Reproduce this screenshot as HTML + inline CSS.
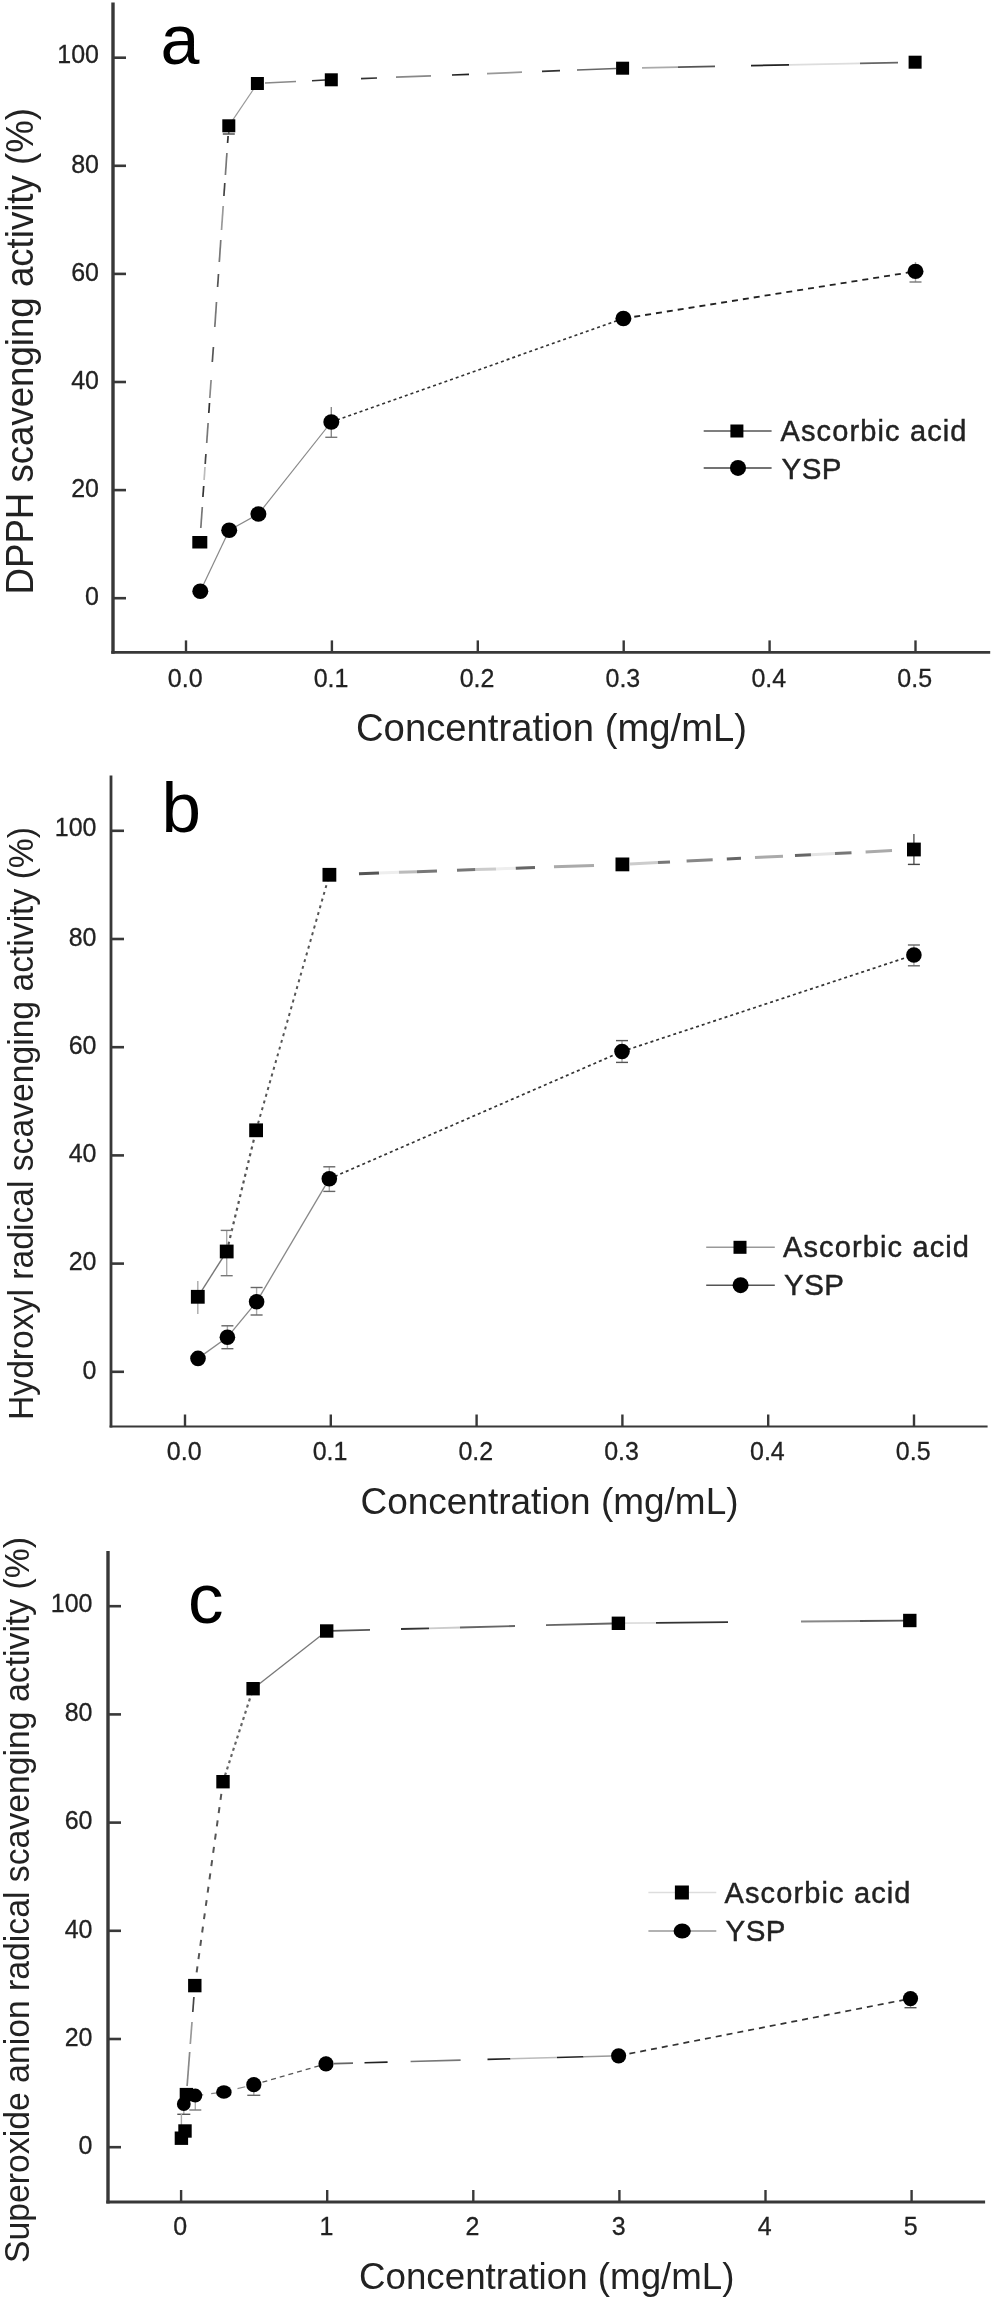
<!DOCTYPE html>
<html lang="en">
<head>
<meta charset="utf-8">
<title>Antioxidant scavenging activity of YSP and ascorbic acid</title>
<style>
html,body{margin:0;padding:0;background:#fff;}
body{width:994px;height:2298px;overflow:hidden;}
svg{display:block;font-family:'Liberation Sans', sans-serif;filter:blur(0.45px);}
</style>
</head>
<body>
<svg width="994" height="2298" viewBox="0 0 994 2298">
<rect x="0" y="0" width="994" height="2298" fill="#fff"/>
<line x1="113.0" y1="2.5" x2="113.0" y2="653.7" stroke="#383838" stroke-width="3.4"/>
<line x1="111.3" y1="652.4" x2="990.2" y2="652.4" stroke="#383838" stroke-width="2.6"/>
<line x1="113.0" y1="598.2" x2="126.0" y2="598.2" stroke="#383838" stroke-width="2.6"/>
<text transform="translate(99.0,605.0) scale(0.94,1)" font-size="26.6" text-anchor="end" fill="#222" stroke="#222" stroke-width="0.3">0</text>
<line x1="113.0" y1="490.1" x2="126.0" y2="490.1" stroke="#383838" stroke-width="2.6"/>
<text transform="translate(99.0,496.9) scale(0.94,1)" font-size="26.6" text-anchor="end" fill="#222" stroke="#222" stroke-width="0.3">20</text>
<line x1="113.0" y1="382.0" x2="126.0" y2="382.0" stroke="#383838" stroke-width="2.6"/>
<text transform="translate(99.0,388.8) scale(0.94,1)" font-size="26.6" text-anchor="end" fill="#222" stroke="#222" stroke-width="0.3">40</text>
<line x1="113.0" y1="273.9" x2="126.0" y2="273.9" stroke="#383838" stroke-width="2.6"/>
<text transform="translate(99.0,280.7) scale(0.94,1)" font-size="26.6" text-anchor="end" fill="#222" stroke="#222" stroke-width="0.3">60</text>
<line x1="113.0" y1="165.8" x2="126.0" y2="165.8" stroke="#383838" stroke-width="2.6"/>
<text transform="translate(99.0,172.6) scale(0.94,1)" font-size="26.6" text-anchor="end" fill="#222" stroke="#222" stroke-width="0.3">80</text>
<line x1="113.0" y1="57.7" x2="126.0" y2="57.7" stroke="#383838" stroke-width="2.6"/>
<text transform="translate(99.0,63.3) scale(0.94,1)" font-size="26.6" text-anchor="end" fill="#222" stroke="#222" stroke-width="0.3">100</text>
<line x1="186.0" y1="640.4" x2="186.0" y2="652.4" stroke="#383838" stroke-width="2.4"/>
<text transform="translate(185.2,686.8) scale(0.94,1)" font-size="26.6" text-anchor="middle" fill="#222" stroke="#222" stroke-width="0.3">0.0</text>
<line x1="331.9" y1="640.4" x2="331.9" y2="652.4" stroke="#383838" stroke-width="2.4"/>
<text transform="translate(331.1,686.8) scale(0.94,1)" font-size="26.6" text-anchor="middle" fill="#222" stroke="#222" stroke-width="0.3">0.1</text>
<line x1="477.8" y1="640.4" x2="477.8" y2="652.4" stroke="#383838" stroke-width="2.4"/>
<text transform="translate(477.0,686.8) scale(0.94,1)" font-size="26.6" text-anchor="middle" fill="#222" stroke="#222" stroke-width="0.3">0.2</text>
<line x1="623.7" y1="640.4" x2="623.7" y2="652.4" stroke="#383838" stroke-width="2.4"/>
<text transform="translate(622.9,686.8) scale(0.94,1)" font-size="26.6" text-anchor="middle" fill="#222" stroke="#222" stroke-width="0.3">0.3</text>
<line x1="769.6" y1="640.4" x2="769.6" y2="652.4" stroke="#383838" stroke-width="2.4"/>
<text transform="translate(768.8,686.8) scale(0.94,1)" font-size="26.6" text-anchor="middle" fill="#222" stroke="#222" stroke-width="0.3">0.4</text>
<line x1="915.5" y1="640.4" x2="915.5" y2="652.4" stroke="#383838" stroke-width="2.4"/>
<text transform="translate(914.7,686.8) scale(0.94,1)" font-size="26.6" text-anchor="middle" fill="#222" stroke="#222" stroke-width="0.3">0.5</text>
<text x="160.5" y="64.4" font-size="70" text-anchor="start" fill="#000" stroke="#000" stroke-width="0">a</text>
<text transform="translate(33.0,594.5) rotate(-90)" font-size="38" fill="#222" textLength="486.5" lengthAdjust="spacingAndGlyphs">DPPH scavenging activity (%)</text>
<text x="356.0" y="741.2" font-size="39.5" text-anchor="start" fill="#222" stroke="#222" stroke-width="0" textLength="391" lengthAdjust="spacingAndGlyphs">Concentration (mg/mL)</text>
<line x1="228.1" y1="136.0" x2="227.6" y2="143.0" stroke="#333" stroke-width="1.7"/>
<line x1="226.9" y1="153.0" x2="225.4" y2="175.0" stroke="#777" stroke-width="1.7"/>
<line x1="224.8" y1="183.0" x2="223.9" y2="196.0" stroke="#444" stroke-width="1.7"/>
<line x1="223.2" y1="206.0" x2="221.5" y2="230.0" stroke="#999" stroke-width="1.7"/>
<line x1="220.8" y1="240.0" x2="219.3" y2="262.0" stroke="#777" stroke-width="1.7"/>
<line x1="218.5" y1="274.0" x2="217.6" y2="287.0" stroke="#555" stroke-width="1.7"/>
<line x1="216.5" y1="302.0" x2="214.8" y2="327.0" stroke="#777" stroke-width="1.7"/>
<line x1="213.4" y1="347.0" x2="212.3" y2="362.0" stroke="#555" stroke-width="1.7"/>
<line x1="211.1" y1="380.0" x2="209.8" y2="398.0" stroke="#888" stroke-width="1.7"/>
<line x1="209.5" y1="403.0" x2="208.8" y2="413.0" stroke="#333" stroke-width="1.7"/>
<line x1="208.1" y1="423.0" x2="206.7" y2="443.0" stroke="#777" stroke-width="1.7"/>
<line x1="205.9" y1="454.0" x2="205.2" y2="464.0" stroke="#444" stroke-width="1.7"/>
<line x1="205.0" y1="467.0" x2="204.1" y2="480.0" stroke="#bbb" stroke-width="1.7"/>
<line x1="203.7" y1="486.0" x2="202.9" y2="497.0" stroke="#333" stroke-width="1.7"/>
<line x1="202.3" y1="507.0" x2="200.8" y2="528.0" stroke="#777" stroke-width="1.7"/>
<line x1="228.8" y1="125.8" x2="257.4" y2="83.5" stroke="#999" stroke-width="1.2"/>
<line x1="265.0" y1="83.1" x2="296.0" y2="81.6" stroke="#888" stroke-width="1.5"/>
<line x1="312.0" y1="80.8" x2="325.0" y2="80.1" stroke="#333" stroke-width="1.5"/>
<line x1="361.0" y1="78.6" x2="377.0" y2="78.0" stroke="#333" stroke-width="1.7"/>
<line x1="396.0" y1="77.2" x2="431.0" y2="75.8" stroke="#888" stroke-width="1.7"/>
<line x1="452.0" y1="75.0" x2="469.0" y2="74.3" stroke="#222" stroke-width="1.7"/>
<line x1="487.0" y1="73.6" x2="522.0" y2="72.2" stroke="#999" stroke-width="1.7"/>
<line x1="542.0" y1="71.4" x2="560.0" y2="70.7" stroke="#333" stroke-width="1.7"/>
<line x1="577.0" y1="70.0" x2="616.0" y2="68.5" stroke="#666" stroke-width="1.7"/>
<line x1="642.0" y1="67.8" x2="678.0" y2="67.1" stroke="#aaa" stroke-width="1.7"/>
<line x1="678.0" y1="67.1" x2="715.0" y2="66.3" stroke="#555" stroke-width="1.7"/>
<line x1="751.0" y1="65.6" x2="789.0" y2="64.8" stroke="#222" stroke-width="1.7"/>
<line x1="789.0" y1="64.8" x2="860.0" y2="63.3" stroke="#ddd" stroke-width="1.7"/>
<line x1="860.0" y1="63.3" x2="898.0" y2="62.6" stroke="#666" stroke-width="1.7"/>
<line x1="200.3" y1="591.3" x2="229.2" y2="530.2" stroke="#888" stroke-width="1.2"/>
<line x1="229.2" y1="530.2" x2="258.4" y2="514.0" stroke="#888" stroke-width="1.2"/>
<line x1="258.4" y1="514.0" x2="331.3" y2="422.0" stroke="#888" stroke-width="1.2"/>
<line x1="331.3" y1="422.0" x2="623.4" y2="318.5" stroke="#333" stroke-width="1.6" stroke-dasharray="3 3"/>
<line x1="623.4" y1="318.5" x2="915.5" y2="271.4" stroke="#222" stroke-width="1.8" stroke-dasharray="6 5"/>
<line x1="331.3" y1="407.0" x2="331.3" y2="437.3" stroke="#888" stroke-width="1.4"/>
<line x1="325.3" y1="437.3" x2="337.3" y2="437.3" stroke="#777" stroke-width="1.4"/>
<line x1="915.5" y1="262.0" x2="915.5" y2="282.0" stroke="#aaa" stroke-width="1.4"/>
<line x1="909.5" y1="282.0" x2="921.5" y2="282.0" stroke="#777" stroke-width="1.4"/>
<line x1="228.8" y1="120.0" x2="228.8" y2="134.0" stroke="#666" stroke-width="1.4"/>
<line x1="222.8" y1="134.0" x2="234.8" y2="134.0" stroke="#444" stroke-width="1.4"/>
<rect x="192.3" y="536.0" width="15" height="12.5" fill="#000"/>
<rect x="222.3" y="119.3" width="13" height="13" fill="#000"/>
<rect x="250.9" y="77.0" width="13" height="13" fill="#000"/>
<rect x="324.8" y="73.3" width="13" height="13" fill="#000"/>
<rect x="616.1" y="61.7" width="13" height="13" fill="#000"/>
<rect x="908.6" y="55.7" width="13" height="13" fill="#000"/>
<ellipse cx="200.3" cy="591.3" rx="8" ry="7.7" fill="#000"/>
<ellipse cx="229.2" cy="530.2" rx="8" ry="7.7" fill="#000"/>
<ellipse cx="258.4" cy="514.0" rx="8" ry="7.7" fill="#000"/>
<ellipse cx="331.3" cy="422.0" rx="8" ry="7.7" fill="#000"/>
<ellipse cx="623.4" cy="318.5" rx="8" ry="7.7" fill="#000"/>
<ellipse cx="915.5" cy="271.4" rx="8" ry="7.7" fill="#000"/>
<line x1="703.7" y1="431.0" x2="771.6" y2="431.0" stroke="#555" stroke-width="1.3"/>
<rect x="730.4" y="424.5" width="13" height="13" fill="#000"/>
<line x1="703.7" y1="467.9" x2="771.6" y2="467.9" stroke="#444" stroke-width="1.5"/>
<ellipse cx="738.0" cy="467.9" rx="8" ry="8" fill="#000"/>
<text x="780.5" y="441.0" font-size="29" text-anchor="start" fill="#222" stroke="#222" stroke-width="0.45" textLength="186" lengthAdjust="spacing">Ascorbic acid</text>
<text x="781.5" y="479.0" font-size="29.5" text-anchor="start" fill="#222" stroke="#222" stroke-width="0.45" textLength="60" lengthAdjust="spacing">YSP</text>
<line x1="111.0" y1="775.5" x2="111.0" y2="1427.6" stroke="#383838" stroke-width="2.8"/>
<line x1="109.6" y1="1426.5" x2="987.6" y2="1426.5" stroke="#383838" stroke-width="2.2"/>
<line x1="111.0" y1="1371.8" x2="124.0" y2="1371.8" stroke="#383838" stroke-width="2.6"/>
<text transform="translate(96.5,1378.6) scale(0.94,1)" font-size="26.6" text-anchor="end" fill="#222" stroke="#222" stroke-width="0.3">0</text>
<line x1="111.0" y1="1263.6" x2="124.0" y2="1263.6" stroke="#383838" stroke-width="2.6"/>
<text transform="translate(96.5,1270.4) scale(0.94,1)" font-size="26.6" text-anchor="end" fill="#222" stroke="#222" stroke-width="0.3">20</text>
<line x1="111.0" y1="1155.4" x2="124.0" y2="1155.4" stroke="#383838" stroke-width="2.6"/>
<text transform="translate(96.5,1162.2) scale(0.94,1)" font-size="26.6" text-anchor="end" fill="#222" stroke="#222" stroke-width="0.3">40</text>
<line x1="111.0" y1="1047.2" x2="124.0" y2="1047.2" stroke="#383838" stroke-width="2.6"/>
<text transform="translate(96.5,1054.0) scale(0.94,1)" font-size="26.6" text-anchor="end" fill="#222" stroke="#222" stroke-width="0.3">60</text>
<line x1="111.0" y1="939.0" x2="124.0" y2="939.0" stroke="#383838" stroke-width="2.6"/>
<text transform="translate(96.5,945.8) scale(0.94,1)" font-size="26.6" text-anchor="end" fill="#222" stroke="#222" stroke-width="0.3">80</text>
<line x1="111.0" y1="830.8" x2="124.0" y2="830.8" stroke="#383838" stroke-width="2.6"/>
<text transform="translate(96.5,836.4) scale(0.94,1)" font-size="26.6" text-anchor="end" fill="#222" stroke="#222" stroke-width="0.3">100</text>
<line x1="185.0" y1="1414.5" x2="185.0" y2="1426.5" stroke="#383838" stroke-width="2.4"/>
<text transform="translate(184.2,1460.0) scale(0.94,1)" font-size="26.6" text-anchor="middle" fill="#222" stroke="#222" stroke-width="0.3">0.0</text>
<line x1="330.8" y1="1414.5" x2="330.8" y2="1426.5" stroke="#383838" stroke-width="2.4"/>
<text transform="translate(330.0,1460.0) scale(0.94,1)" font-size="26.6" text-anchor="middle" fill="#222" stroke="#222" stroke-width="0.3">0.1</text>
<line x1="476.6" y1="1414.5" x2="476.6" y2="1426.5" stroke="#383838" stroke-width="2.4"/>
<text transform="translate(475.8,1460.0) scale(0.94,1)" font-size="26.6" text-anchor="middle" fill="#222" stroke="#222" stroke-width="0.3">0.2</text>
<line x1="622.4" y1="1414.5" x2="622.4" y2="1426.5" stroke="#383838" stroke-width="2.4"/>
<text transform="translate(621.6,1460.0) scale(0.94,1)" font-size="26.6" text-anchor="middle" fill="#222" stroke="#222" stroke-width="0.3">0.3</text>
<line x1="768.2" y1="1414.5" x2="768.2" y2="1426.5" stroke="#383838" stroke-width="2.4"/>
<text transform="translate(767.4,1460.0) scale(0.94,1)" font-size="26.6" text-anchor="middle" fill="#222" stroke="#222" stroke-width="0.3">0.4</text>
<line x1="914.0" y1="1414.5" x2="914.0" y2="1426.5" stroke="#383838" stroke-width="2.4"/>
<text transform="translate(913.2,1460.0) scale(0.94,1)" font-size="26.6" text-anchor="middle" fill="#222" stroke="#222" stroke-width="0.3">0.5</text>
<text x="161.5" y="832.4" font-size="71" text-anchor="start" fill="#000" stroke="#000" stroke-width="0">b</text>
<text transform="translate(32.7,1420.0) rotate(-90)" font-size="35" fill="#222" textLength="593" lengthAdjust="spacingAndGlyphs">Hydroxyl radical scavenging activity (%)</text>
<text x="360.5" y="1513.7" font-size="36" text-anchor="start" fill="#222" stroke="#222" stroke-width="0" textLength="378" lengthAdjust="spacingAndGlyphs">Concentration (mg/mL)</text>
<line x1="197.8" y1="1296.8" x2="226.7" y2="1251.5" stroke="#777" stroke-width="1.4"/>
<line x1="226.7" y1="1251.5" x2="256.1" y2="1130.3" stroke="#555" stroke-width="2.2" stroke-dasharray="3 4"/>
<line x1="256.1" y1="1130.3" x2="329.4" y2="874.8" stroke="#555" stroke-width="2" stroke-dasharray="3 4"/>
<line x1="359.0" y1="873.7" x2="379.0" y2="873.0" stroke="#555" stroke-width="3"/>
<line x1="379.0" y1="873.0" x2="399.0" y2="872.3" stroke="#eee" stroke-width="3"/>
<line x1="399.0" y1="872.3" x2="417.0" y2="871.7" stroke="#bbb" stroke-width="3"/>
<line x1="417.0" y1="871.7" x2="437.0" y2="871.0" stroke="#777" stroke-width="3"/>
<line x1="457.0" y1="870.3" x2="475.5" y2="869.6" stroke="#777" stroke-width="3"/>
<line x1="475.5" y1="869.6" x2="496.0" y2="868.9" stroke="#ccc" stroke-width="3"/>
<line x1="496.0" y1="868.9" x2="515.0" y2="868.2" stroke="#eee" stroke-width="3"/>
<line x1="515.7" y1="868.2" x2="535.0" y2="867.5" stroke="#666" stroke-width="3"/>
<line x1="554.0" y1="866.8" x2="594.0" y2="865.4" stroke="#aaa" stroke-width="3"/>
<line x1="630.0" y1="864.0" x2="658.0" y2="862.6" stroke="#ccc" stroke-width="3"/>
<line x1="658.0" y1="862.6" x2="670.0" y2="862.0" stroke="#777" stroke-width="3"/>
<line x1="686.6" y1="861.1" x2="712.7" y2="859.8" stroke="#888" stroke-width="3"/>
<line x1="726.8" y1="859.1" x2="741.0" y2="858.3" stroke="#666" stroke-width="3"/>
<line x1="755.0" y1="857.6" x2="783.0" y2="856.2" stroke="#aaa" stroke-width="3"/>
<line x1="795.0" y1="855.6" x2="811.0" y2="854.8" stroke="#666" stroke-width="3"/>
<line x1="811.0" y1="854.8" x2="835.0" y2="853.5" stroke="#e4e4e4" stroke-width="3"/>
<line x1="835.0" y1="853.5" x2="851.5" y2="852.7" stroke="#777" stroke-width="3"/>
<line x1="865.6" y1="852.0" x2="892.0" y2="850.6" stroke="#aaa" stroke-width="3"/>
<line x1="198.0" y1="1358.4" x2="227.4" y2="1337.2" stroke="#888" stroke-width="1.3"/>
<line x1="227.4" y1="1337.2" x2="256.6" y2="1301.8" stroke="#888" stroke-width="1.3"/>
<line x1="256.6" y1="1301.8" x2="329.3" y2="1178.8" stroke="#888" stroke-width="1.3"/>
<line x1="329.3" y1="1178.8" x2="622.0" y2="1051.5" stroke="#333" stroke-width="1.7" stroke-dasharray="3 3"/>
<line x1="622.0" y1="1051.5" x2="913.9" y2="955.0" stroke="#333" stroke-width="1.7" stroke-dasharray="3 3"/>
<line x1="197.8" y1="1281.0" x2="197.8" y2="1314.0" stroke="#aaa" stroke-width="1.4"/>
<line x1="226.7" y1="1230.4" x2="226.7" y2="1275.7" stroke="#aaa" stroke-width="1.4"/>
<line x1="220.7" y1="1230.4" x2="232.7" y2="1230.4" stroke="#777" stroke-width="1.4"/>
<line x1="220.7" y1="1275.7" x2="232.7" y2="1275.7" stroke="#777" stroke-width="1.4"/>
<line x1="913.9" y1="834.0" x2="913.9" y2="864.4" stroke="#555" stroke-width="1.4"/>
<line x1="907.9" y1="864.4" x2="919.9" y2="864.4" stroke="#444" stroke-width="1.4"/>
<line x1="227.4" y1="1325.8" x2="227.4" y2="1348.7" stroke="#aaa" stroke-width="1.4"/>
<line x1="221.4" y1="1325.8" x2="233.4" y2="1325.8" stroke="#666" stroke-width="1.4"/>
<line x1="221.4" y1="1348.7" x2="233.4" y2="1348.7" stroke="#666" stroke-width="1.4"/>
<line x1="256.6" y1="1287.5" x2="256.6" y2="1315.0" stroke="#aaa" stroke-width="1.4"/>
<line x1="250.6" y1="1287.5" x2="262.6" y2="1287.5" stroke="#666" stroke-width="1.4"/>
<line x1="250.6" y1="1315.0" x2="262.6" y2="1315.0" stroke="#666" stroke-width="1.4"/>
<line x1="329.3" y1="1166.8" x2="329.3" y2="1191.4" stroke="#aaa" stroke-width="1.4"/>
<line x1="323.3" y1="1166.8" x2="335.3" y2="1166.8" stroke="#666" stroke-width="1.4"/>
<line x1="323.3" y1="1191.4" x2="335.3" y2="1191.4" stroke="#666" stroke-width="1.4"/>
<line x1="622.0" y1="1040.6" x2="622.0" y2="1062.4" stroke="#aaa" stroke-width="1.4"/>
<line x1="616.0" y1="1040.6" x2="628.0" y2="1040.6" stroke="#555" stroke-width="1.4"/>
<line x1="616.0" y1="1062.4" x2="628.0" y2="1062.4" stroke="#555" stroke-width="1.4"/>
<line x1="913.9" y1="945.0" x2="913.9" y2="965.8" stroke="#aaa" stroke-width="1.4"/>
<line x1="907.9" y1="945.0" x2="919.9" y2="945.0" stroke="#666" stroke-width="1.4"/>
<line x1="907.9" y1="965.8" x2="919.9" y2="965.8" stroke="#666" stroke-width="1.4"/>
<rect x="190.9" y="1289.9" width="13.8" height="13.8" fill="#000"/>
<rect x="219.8" y="1244.6" width="13.8" height="13.8" fill="#000"/>
<rect x="249.2" y="1123.4" width="13.8" height="13.8" fill="#000"/>
<rect x="322.5" y="867.9" width="13.8" height="13.8" fill="#000"/>
<rect x="615.5" y="857.5" width="13.8" height="13.8" fill="#000"/>
<rect x="907.0" y="842.6" width="13.8" height="13.8" fill="#000"/>
<ellipse cx="198.0" cy="1358.4" rx="7.8" ry="7.8" fill="#000"/>
<ellipse cx="227.4" cy="1337.2" rx="7.8" ry="7.8" fill="#000"/>
<ellipse cx="256.6" cy="1301.8" rx="7.8" ry="7.8" fill="#000"/>
<ellipse cx="329.3" cy="1178.8" rx="7.8" ry="7.8" fill="#000"/>
<ellipse cx="622.0" cy="1051.5" rx="7.8" ry="7.8" fill="#000"/>
<ellipse cx="913.9" cy="955.0" rx="7.8" ry="7.8" fill="#000"/>
<line x1="706.2" y1="1247.3" x2="774.8" y2="1247.3" stroke="#999" stroke-width="1.4"/>
<rect x="733.5" y="1240.8" width="13" height="13" fill="#000"/>
<line x1="706.2" y1="1285.2" x2="774.8" y2="1285.2" stroke="#555" stroke-width="1.5"/>
<ellipse cx="740.6" cy="1285.2" rx="8" ry="8" fill="#000"/>
<text x="783.0" y="1257.4" font-size="29" text-anchor="start" fill="#222" stroke="#222" stroke-width="0.45" textLength="186" lengthAdjust="spacing">Ascorbic acid</text>
<text x="784.0" y="1295.3" font-size="29.5" text-anchor="start" fill="#222" stroke="#222" stroke-width="0.45" textLength="60" lengthAdjust="spacing">YSP</text>
<line x1="108.0" y1="1551.0" x2="108.0" y2="2203.5" stroke="#383838" stroke-width="3.4"/>
<line x1="106.3" y1="2202.0" x2="985.1" y2="2202.0" stroke="#383838" stroke-width="3"/>
<line x1="108.0" y1="2147.2" x2="121.0" y2="2147.2" stroke="#383838" stroke-width="2.6"/>
<text transform="translate(92.5,2154.0) scale(0.94,1)" font-size="26.6" text-anchor="end" fill="#222" stroke="#222" stroke-width="0.3">0</text>
<line x1="108.0" y1="2039.0" x2="121.0" y2="2039.0" stroke="#383838" stroke-width="2.6"/>
<text transform="translate(92.5,2045.8) scale(0.94,1)" font-size="26.6" text-anchor="end" fill="#222" stroke="#222" stroke-width="0.3">20</text>
<line x1="108.0" y1="1930.8" x2="121.0" y2="1930.8" stroke="#383838" stroke-width="2.6"/>
<text transform="translate(92.5,1937.6) scale(0.94,1)" font-size="26.6" text-anchor="end" fill="#222" stroke="#222" stroke-width="0.3">40</text>
<line x1="108.0" y1="1822.6" x2="121.0" y2="1822.6" stroke="#383838" stroke-width="2.6"/>
<text transform="translate(92.5,1829.4) scale(0.94,1)" font-size="26.6" text-anchor="end" fill="#222" stroke="#222" stroke-width="0.3">60</text>
<line x1="108.0" y1="1714.4" x2="121.0" y2="1714.4" stroke="#383838" stroke-width="2.6"/>
<text transform="translate(92.5,1721.2) scale(0.94,1)" font-size="26.6" text-anchor="end" fill="#222" stroke="#222" stroke-width="0.3">80</text>
<line x1="108.0" y1="1606.2" x2="121.0" y2="1606.2" stroke="#383838" stroke-width="2.6"/>
<text transform="translate(92.5,1611.8) scale(0.94,1)" font-size="26.6" text-anchor="end" fill="#222" stroke="#222" stroke-width="0.3">100</text>
<line x1="181.1" y1="2190.0" x2="181.1" y2="2202.0" stroke="#383838" stroke-width="2.4"/>
<text transform="translate(180.3,2234.6) scale(0.94,1)" font-size="26.6" text-anchor="middle" fill="#222" stroke="#222" stroke-width="0.3">0</text>
<line x1="327.2" y1="2190.0" x2="327.2" y2="2202.0" stroke="#383838" stroke-width="2.4"/>
<text transform="translate(326.4,2234.6) scale(0.94,1)" font-size="26.6" text-anchor="middle" fill="#222" stroke="#222" stroke-width="0.3">1</text>
<line x1="473.3" y1="2190.0" x2="473.3" y2="2202.0" stroke="#383838" stroke-width="2.4"/>
<text transform="translate(472.5,2234.6) scale(0.94,1)" font-size="26.6" text-anchor="middle" fill="#222" stroke="#222" stroke-width="0.3">2</text>
<line x1="619.4" y1="2190.0" x2="619.4" y2="2202.0" stroke="#383838" stroke-width="2.4"/>
<text transform="translate(618.6,2234.6) scale(0.94,1)" font-size="26.6" text-anchor="middle" fill="#222" stroke="#222" stroke-width="0.3">3</text>
<line x1="765.5" y1="2190.0" x2="765.5" y2="2202.0" stroke="#383838" stroke-width="2.4"/>
<text transform="translate(764.7,2234.6) scale(0.94,1)" font-size="26.6" text-anchor="middle" fill="#222" stroke="#222" stroke-width="0.3">4</text>
<line x1="911.6" y1="2190.0" x2="911.6" y2="2202.0" stroke="#383838" stroke-width="2.4"/>
<text transform="translate(910.8,2234.6) scale(0.94,1)" font-size="26.6" text-anchor="middle" fill="#222" stroke="#222" stroke-width="0.3">5</text>
<text x="188.0" y="1623.4" font-size="71" text-anchor="start" fill="#000" stroke="#000" stroke-width="0">c</text>
<text transform="translate(29.0,2263.0) rotate(-90)" font-size="35" fill="#222" textLength="726" lengthAdjust="spacingAndGlyphs">Superoxide anion radical scavenging activity (%)</text>
<text x="359.0" y="2289.3" font-size="36" text-anchor="start" fill="#222" stroke="#222" stroke-width="0" textLength="375.5" lengthAdjust="spacingAndGlyphs">Concentration (mg/mL)</text>
<line x1="193.9" y1="1997.0" x2="192.8" y2="2012.0" stroke="#444" stroke-width="1.7"/>
<line x1="192.0" y1="2022.0" x2="190.3" y2="2044.0" stroke="#999" stroke-width="1.7"/>
<line x1="189.7" y1="2052.0" x2="187.1" y2="2086.0" stroke="#888" stroke-width="1.7"/>
<line x1="194.8" y1="1985.6" x2="223.0" y2="1781.7" stroke="#555" stroke-width="2" stroke-dasharray="6 7.4"/>
<line x1="223.0" y1="1781.7" x2="253.1" y2="1688.7" stroke="#666" stroke-width="2.2" stroke-dasharray="3 3.5"/>
<line x1="253.1" y1="1688.7" x2="326.7" y2="1631.0" stroke="#777" stroke-width="1.3"/>
<line x1="331.0" y1="1630.9" x2="370.0" y2="1629.9" stroke="#555" stroke-width="1.8"/>
<line x1="401.0" y1="1629.0" x2="429.0" y2="1628.3" stroke="#333" stroke-width="1.8"/>
<line x1="429.0" y1="1628.3" x2="460.0" y2="1627.5" stroke="#ccc" stroke-width="1.8"/>
<line x1="460.0" y1="1627.5" x2="515.0" y2="1626.0" stroke="#666" stroke-width="1.8"/>
<line x1="546.0" y1="1625.2" x2="612.0" y2="1623.5" stroke="#666" stroke-width="1.8"/>
<line x1="625.0" y1="1623.2" x2="656.0" y2="1622.9" stroke="#ddd" stroke-width="1.8"/>
<line x1="656.0" y1="1622.9" x2="728.0" y2="1622.2" stroke="#333" stroke-width="1.8"/>
<line x1="801.0" y1="1621.5" x2="860.0" y2="1621.0" stroke="#888" stroke-width="1.8"/>
<line x1="860.0" y1="1621.0" x2="904.0" y2="1620.6" stroke="#555" stroke-width="1.8"/>
<line x1="195.3" y1="2095.6" x2="223.9" y2="2092.0" stroke="#888" stroke-width="1.2" stroke-dasharray="8 8"/>
<line x1="223.9" y1="2092.0" x2="253.8" y2="2084.7" stroke="#888" stroke-width="1.2" stroke-dasharray="8 6"/>
<line x1="253.8" y1="2084.7" x2="326.0" y2="2063.8" stroke="#555" stroke-width="1.3" stroke-dasharray="5 4"/>
<line x1="334.0" y1="2063.6" x2="353.0" y2="2063.1" stroke="#666" stroke-width="1.6"/>
<line x1="364.5" y1="2062.7" x2="387.6" y2="2062.1" stroke="#222" stroke-width="1.6"/>
<line x1="410.6" y1="2061.5" x2="460.6" y2="2060.1" stroke="#777" stroke-width="1.6"/>
<line x1="487.5" y1="2059.4" x2="510.5" y2="2058.8" stroke="#222" stroke-width="1.6"/>
<line x1="510.5" y1="2058.8" x2="556.0" y2="2057.5" stroke="#bbb" stroke-width="1.6"/>
<line x1="556.7" y1="2057.5" x2="583.6" y2="2056.8" stroke="#222" stroke-width="1.6"/>
<line x1="583.6" y1="2056.8" x2="611.0" y2="2056.0" stroke="#999" stroke-width="1.6"/>
<line x1="618.6" y1="2055.8" x2="910.5" y2="1998.6" stroke="#333" stroke-width="1.7" stroke-dasharray="6 5"/>
<line x1="183.8" y1="2104.0" x2="183.8" y2="2114.3" stroke="#aaa" stroke-width="1.4"/>
<line x1="177.3" y1="2114.3" x2="190.3" y2="2114.3" stroke="#555" stroke-width="1.4"/>
<line x1="195.3" y1="2096.0" x2="195.3" y2="2110.0" stroke="#aaa" stroke-width="1.4"/>
<line x1="189.3" y1="2110.0" x2="201.3" y2="2110.0" stroke="#777" stroke-width="1.4"/>
<line x1="253.8" y1="2085.0" x2="253.8" y2="2095.3" stroke="#aaa" stroke-width="1.4"/>
<line x1="247.3" y1="2095.3" x2="260.3" y2="2095.3" stroke="#666" stroke-width="1.4"/>
<line x1="326.0" y1="2056.0" x2="326.0" y2="2071.0" stroke="#aaa" stroke-width="1.4"/>
<line x1="910.5" y1="1999.0" x2="910.5" y2="2007.7" stroke="#aaa" stroke-width="1.4"/>
<line x1="904.5" y1="2007.7" x2="916.5" y2="2007.7" stroke="#555" stroke-width="1.4"/>
<line x1="181.4" y1="2114.0" x2="181.4" y2="2131.0" stroke="#aaa" stroke-width="1.4"/>
<rect x="174.7" y="2131.5" width="13.4" height="13.4" fill="#000"/>
<rect x="178.3" y="2124.3" width="13.4" height="13.4" fill="#000"/>
<rect x="179.7" y="2087.9" width="13.4" height="13.4" fill="#000"/>
<rect x="188.1" y="1978.9" width="13.4" height="13.4" fill="#000"/>
<rect x="216.3" y="1775.0" width="13.4" height="13.4" fill="#000"/>
<rect x="246.4" y="1682.0" width="13.4" height="13.4" fill="#000"/>
<rect x="320.0" y="1624.3" width="13.4" height="13.4" fill="#000"/>
<rect x="611.7" y="1616.6" width="13.4" height="13.4" fill="#000"/>
<rect x="903.1" y="1613.8" width="13.4" height="13.4" fill="#000"/>
<ellipse cx="183.8" cy="2104.0" rx="6.9" ry="6.9" fill="#000"/>
<ellipse cx="195.3" cy="2095.6" rx="7" ry="7" fill="#000"/>
<ellipse cx="223.9" cy="2092.0" rx="7.8" ry="6.8" fill="#000"/>
<ellipse cx="253.8" cy="2084.7" rx="7.6" ry="7.6" fill="#000"/>
<ellipse cx="326.0" cy="2063.8" rx="7.6" ry="7.6" fill="#000"/>
<ellipse cx="618.6" cy="2055.8" rx="7.6" ry="7.6" fill="#000"/>
<ellipse cx="910.5" cy="1998.6" rx="7.6" ry="7.6" fill="#000"/>
<line x1="648.4" y1="1892.5" x2="716.3" y2="1892.5" stroke="#ddd" stroke-width="1.4"/>
<rect x="674.9" y="1885.5" width="14" height="14" fill="#000"/>
<line x1="648.4" y1="1931.0" x2="716.3" y2="1931.0" stroke="#999" stroke-width="1.6"/>
<ellipse cx="682.2" cy="1931.0" rx="8.6" ry="7.6" fill="#000"/>
<text x="724.5" y="1902.6" font-size="29" text-anchor="start" fill="#222" stroke="#222" stroke-width="0.45" textLength="186" lengthAdjust="spacing">Ascorbic acid</text>
<text x="725.5" y="1940.5" font-size="29.5" text-anchor="start" fill="#222" stroke="#222" stroke-width="0.45" textLength="60" lengthAdjust="spacing">YSP</text>
</svg>
</body>
</html>
